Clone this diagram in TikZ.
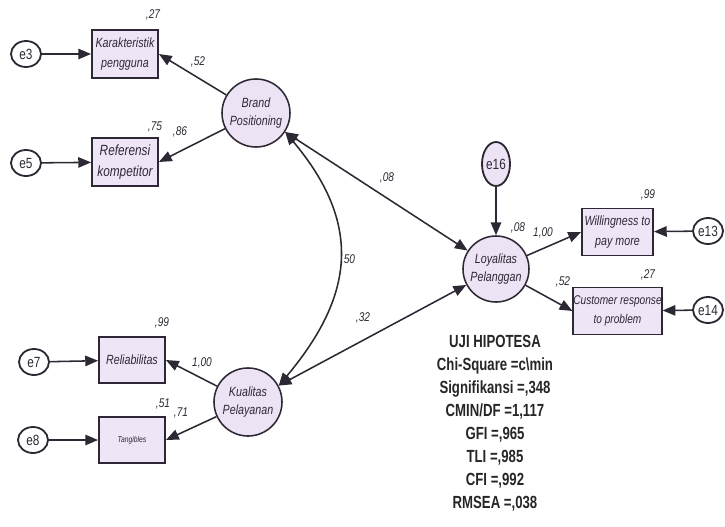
\documentclass[tikz,border=0pt]{standalone}
\usepackage{fontspec}
\usetikzlibrary{arrows.meta,shapes.geometric}
\newfontfamily\amos[FakeStretch=0.8]{Liberation Sans}
\newfontfamily\amosbold[FakeStretch=0.75]{Liberation Sans}
\definecolor{latentfill}{RGB}{236,228,244}
\definecolor{boxfill}{RGB}{238,230,247}
\definecolor{inkgray}{RGB}{45,40,52}

\begin{document}
\begin{tikzpicture}[x=0.025cm,y=-0.025cm,
  obs/.style={draw=inkgray, line width=1.3pt, fill=boxfill, minimum width=1.65cm, minimum height=1.2cm, inner sep=0pt, align=center, text=inkgray, font=\amos\itshape\fontsize{9.5}{14}\selectfont},
  latent/.style={circle, draw=inkgray, line width=1.1pt, fill=latentfill, minimum size=1.7cm, inner sep=0pt, align=center, text=inkgray, font=\amos\itshape\fontsize{9.5}{13}\selectfont},
  err/.style={ellipse, draw=inkgray, line width=1.3pt, fill=white, minimum width=0.75cm, minimum height=0.65cm, inner sep=0pt, text=inkgray, font=\amos\fontsize{10.5}{12}\selectfont},
  arrow/.style={-{Triangle[length=3.2mm,width=2.6mm]}, line width=1.1pt, draw=inkgray},
  cov/.style={{Triangle[length=3.2mm,width=2.6mm]}-{Triangle[length=3.2mm,width=2.6mm]}, line width=1.1pt, draw=inkgray},
  coef/.style={inner sep=0pt, text=inkgray, font=\amos\itshape\fontsize{9}{10}\selectfont},
  fitstat/.style={inner sep=0pt, align=center, text=black!85, font=\amosbold\bfseries\fontsize{12.5}{16.4}\selectfont}
]
\useasboundingbox (0,0) rectangle (725,527);
% latent variables
\node[latent] (bp) at (256,113) {Brand\\Positioning};
\node[latent] (kp) at (248,402) {Kualitas\\Pelayanan};
\node[latent, minimum size=1.65cm] (lp) at (496,269) {Loyalitas\\Pelanggan};
% indicators
\node[obs] (kar) at (125,54) {Karakteristik\\pengguna};
\node[obs, font=\amos\itshape\fontsize{10.5}{15}\selectfont] (ref) at (125,162) {Referensi\\kompetitor};
\node[obs, minimum height=1.15cm] (rel) at (132,360) {Reliabilitas};
\node[obs, minimum height=1.15cm, font=\amos\itshape\fontsize{6}{8}\selectfont] (tan) at (132,440) {Tangibles};
\node[obs, minimum width=1.775cm, minimum height=1.175cm] (wil) at (617.5,232) {Willingness to\\pay more};
\node[obs, minimum width=1.775cm, minimum height=1.175cm, font=\amos\itshape\fontsize{9}{13}\selectfont] (cus) at (617.5,311) {Customer response\\to problem};
% errors
\node[err] (e3) at (26,54) {e3};
\node[err] (e5) at (26,163) {e5};
\node[err] (e7) at (34,362) {e7};
\node[err] (e8) at (33,440) {e8};
\node[err] (e13) at (708,231) {e13};
\node[err] (e14) at (708,310) {e14};
\node[err, minimum width=0.7cm, minimum height=1.1cm, fill=latentfill] (e16) at (496,164) {e16};

\draw[arrow] (e3) -- (kar);
\draw[arrow] (e5) -- (ref);
\draw[arrow] (e7) -- (rel);
\draw[arrow] (e8) -- (tan);
\draw[arrow] (e13) -- (wil);
\draw[arrow] (e14) -- (cus);
\draw[arrow] (e16) -- (lp);
\draw[arrow] (bp) -- (kar.east);
\draw[arrow] (bp) -- (ref.east);
\draw[arrow] (kp) -- (rel.east);
\draw[arrow] (kp) -- (tan.east);
\draw[arrow] (lp) -- (wil.west);
\draw[arrow] (lp) -- (cus.west);
\draw[cov] (bp) -- (lp);
\draw[cov] (kp) -- (lp);
\draw[cov] (bp.-33) to[out=-50, in=50, looseness=1.2] (kp.28);

% estimates
\node[coef] (r27a) at (153,15) {,27};
\node[coef] (w52a) at (198,62) {,52};
\node[coef] (r75) at (155,127) {,75};
\node[coef] (w86) at (180,132) {,86};
\node[coef] (r99a) at (162,323) {,99};
\node[coef] (w100a) at (202,363) {1,00};
\node[coef] (r51) at (163,404) {,51};
\node[coef] (w71) at (181,413) {,71};
\node[coef] (c08) at (387,178) {,08};
\node[coef] (c50) at (348,260) {,50};
\node[coef] (c32) at (363,318) {,32};
\node[coef] (r08) at (518,228) {,08};
\node[coef] (w100b) at (543,233) {1,00};
\node[coef] (w52b) at (563,282) {,52};
\node[coef] (r99b) at (648,195) {,99};
\node[coef] (r27b) at (648,275) {,27};

\node[fitstat] (uji) at (495,423.5) {UJI HIPOTESA\\Chi-Square =c\textbackslash min\\Signifikansi =,348\\CMIN/DF =1,117\\GFI =,965\\TLI =,985\\CFI =,992\\RMSEA =,038};
\end{tikzpicture}
\end{document}
